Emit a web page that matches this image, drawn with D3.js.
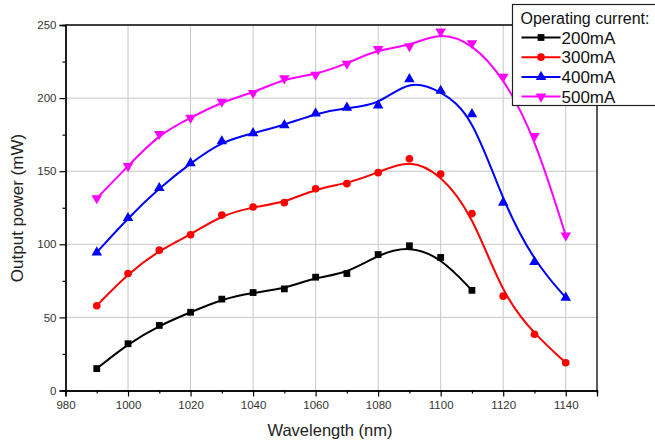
<!DOCTYPE html>
<html>
<head>
<meta charset="utf-8">
<script src="https://cdn.jsdelivr.net/npm/d3@7"></script>
<style>
  body { margin: 0; background: #fff; }
  svg { display: block; font-family: "Liberation Sans", Arial, sans-serif; }
</style>
</head>
<body>
<svg id="chart" width="655" height="441"></svg>
<script>
// wavelengths (nm) for each measured point
var wl200 = [990, 1000, 1010, 1020, 1030, 1040, 1050, 1060, 1070, 1080, 1090, 1100, 1110];
var p200 = [15, 32, 44.5, 53.5, 62.5, 67, 69.5, 77.5, 80, 93, 99, 91, 68.5];

var wlLong = [990, 1000, 1010, 1020, 1030, 1040, 1050, 1060, 1070, 1080, 1090, 1100, 1110, 1120, 1130, 1140];
var p300 = [58, 80, 96, 106.5, 120, 125.5, 128.5, 138, 141.5, 149, 158.5, 148, 121, 64.5, 38.5, 19];
var p400 = [94.5, 118, 138.5, 155.5, 170.5, 176, 181.5, 189.5, 193.5, 195, 213, 205, 189, 128.5, 88, 63.5];
var p500 = [131.5, 153.5, 175.5, 186.5, 197.5, 203.5, 213.5, 216, 223.5, 233.5, 235.5, 245.5, 237.5, 214.5, 174, 106];

var seriesNames = ['200mA', '300mA', '400mA', '500mA'];
var xTicks = [980, 1000, 1020, 1040, 1060, 1080, 1100, 1120, 1140];
var yTicks = [0, 50, 100, 150, 200, 250];

var colors = ['#000000', '#ff0000', '#0000ff', '#ff00ff'];
var symbols = [d3.symbolSquare, d3.symbolCircle, 'up', 'down'];

var series = [
  { name: seriesNames[0], x: wl200, y: p200 },
  { name: seriesNames[1], x: wlLong, y: p300 },
  { name: seriesNames[2], x: wlLong, y: p400 },
  { name: seriesNames[3], x: wlLong, y: p500 }
];

var svg = d3.select('#chart');
var plotLeft = 65.5, plotRight = 597, plotTop = 25, plotBottom = 390.5;

var x = d3.scaleLinear().domain([980, 1150]).range([plotLeft, plotRight]);
var y = d3.scaleLinear().domain([0, 250]).range([plotBottom, plotTop]);

// grid
var grid = svg.append('g');
grid.selectAll('line.gx')
  .data(xTicks.filter(function(t) { return t > 980; }))
  .enter().append('line')
  .attr('x1', function(d) { return x(d); }).attr('x2', function(d) { return x(d); })
  .attr('y1', plotTop).attr('y2', plotBottom)
  .attr('stroke', '#c8c8c8').attr('stroke-width', 1);
grid.selectAll('line.gy')
  .data(yTicks.filter(function(t) { return t > 0 && t < 250; }))
  .enter().append('line')
  .attr('y1', function(d) { return y(d); }).attr('y2', function(d) { return y(d); })
  .attr('x1', plotLeft).attr('x2', plotRight)
  .attr('stroke', '#c8c8c8').attr('stroke-width', 1);

// frame top and right
svg.append('line').attr('x1', plotLeft).attr('x2', plotRight).attr('y1', plotTop).attr('y2', plotTop)
  .attr('stroke', '#000').attr('stroke-width', 1.3);
svg.append('line').attr('x1', plotRight).attr('x2', plotRight).attr('y1', plotTop).attr('y2', plotBottom)
  .attr('stroke', '#000').attr('stroke-width', 1.3);

// axes
var xAxis = d3.axisBottom(x).tickValues(xTicks).tickSize(6).tickPadding(4).tickFormat(d3.format('d'));
var xMinor = d3.axisBottom(x).tickValues(d3.range(990, 1150, 20)).tickSize(3).tickFormat('');
var yAxis = d3.axisLeft(y).tickValues(yTicks).tickSize(6).tickPadding(3);
var yMinor = d3.axisLeft(y).tickValues([25, 75, 125, 175, 225]).tickSize(3).tickFormat('');

function styleAxis(g) {
  g.select('.domain').attr('stroke', '#000').attr('stroke-width', 1.3);
  g.selectAll('.tick line').attr('stroke', '#000').attr('stroke-width', 1.2);
  g.selectAll('.tick text').attr('fill', '#333').style('font-size', '11.5px');
}

svg.append('g').attr('transform', 'translate(0,' + plotBottom + ')').call(xMinor).call(styleAxis);
svg.append('g').attr('transform', 'translate(0,' + plotBottom + ')').call(xAxis).call(styleAxis);
svg.append('g').attr('transform', 'translate(' + plotLeft + ',0)').call(yMinor).call(styleAxis);
svg.append('g').attr('transform', 'translate(' + plotLeft + ',0)').call(yAxis).call(styleAxis);

svg.append('text').attr('x', 330).attr('y', 436)
  .attr('text-anchor', 'middle').style('font-size', '16.5px').attr('fill', '#222')
  .text('Wavelength (nm)');
svg.append('text').attr('transform', 'translate(23,' + 208 + ') rotate(-90)')
  .attr('text-anchor', 'middle').style('font-size', '17px').attr('fill', '#222')
  .text('Output power (mW)');

function markerPath(kind, size) {
  if (kind === 'up' || kind === 'down') return d3.symbol().type(d3.symbolTriangle).size(size)();
  return d3.symbol().type(kind).size(size)();
}
var markerSize = [46, 46, 48, 48];

var line = d3.line()
  .x(function(d) { return x(d[0]); })
  .y(function(d) { return y(d[1]); })
  .curve(d3.curveBasis);

series.forEach(function(s, i) {
  var pts = s.x.map(function(v, j) { return [v, s.y[j]]; });
  svg.append('path').datum(pts)
    .attr('d', line)
    .attr('fill', 'none')
    .attr('stroke', colors[i])
    .attr('stroke-width', 2);
  svg.append('g').selectAll('path')
    .data(pts).enter().append('path')
    .attr('d', markerPath(symbols[i], markerSize[i]))
    .attr('transform', function(d) {
      var t = 'translate(' + x(d[0]) + ',' + y(d[1]) + ')';
      if (symbols[i] === 'down') t += ' rotate(180)';
      return t;
    })
    .attr('fill', colors[i]);
});

// legend
var lg = svg.append('g').attr('transform', 'translate(512.5,4.5)');
lg.append('rect').attr('width', 150).attr('height', 101)
  .attr('fill', '#fff').attr('stroke', '#222').attr('stroke-width', 1.2);
lg.append('text').attr('x', 8).attr('y', 19).style('font-size', '16px').attr('fill', '#111')
  .text('Operating current:');
series.forEach(function(s, i) {
  var yy = 33 + i * 19.7;
  lg.append('line').attr('x1', 9).attr('x2', 48).attr('y1', yy).attr('y2', yy)
    .attr('stroke', colors[i]).attr('stroke-width', 2);
  lg.append('path').attr('d', markerPath(symbols[i], markerSize[i]))
    .attr('transform', 'translate(28.5,' + yy + ')' + (symbols[i] === 'down' ? ' rotate(180)' : ''))
    .attr('fill', colors[i]);
  lg.append('text').attr('x', 49).attr('y', yy + 6).style('font-size', '17px').attr('fill', '#111')
    .text(s.name);
});
</script>
</body>
</html>
